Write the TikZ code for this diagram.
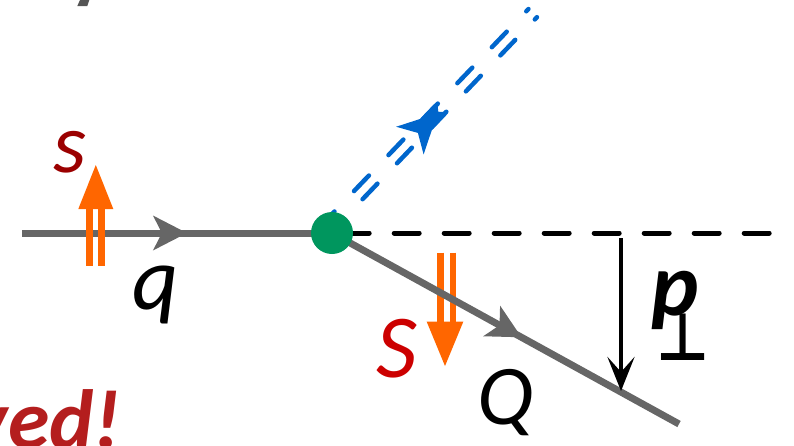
\documentclass[tikz,border=0pt]{standalone}
\usepackage{fontspec}
\newfontfamily\calfont{Carlito}
\newfontfamily\djvbold{DejaVu Sans Bold}
\usetikzlibrary{arrows.meta,calc}
\definecolor{lgray}{RGB}{102,102,102}
\definecolor{vgreen}{RGB}{0,150,94}
\definecolor{fblue}{RGB}{0,102,204}
\definecolor{sorange}{RGB}{255,102,0}
\definecolor{sdred}{RGB}{155,0,0}
\definecolor{sred}{RGB}{204,0,0}
\definecolor{tred}{RGB}{180,30,30}
\definecolor{fraggray}{RGB}{85,85,85}
\begin{document}
\begin{tikzpicture}[x=1pt,y=-1pt,
  quark/.style={draw=lgray,line width=7pt},
  headshape/.style={fill=lgray},
  cutline/.style={draw=black,line width=5pt,line cap=round,dash pattern=on 25pt off 25pt,dash phase=37.8pt},
  bluestroke/.style={draw=fblue,line width=4.5pt,line cap=round,dash pattern=on 21.5pt off 28.3pt,dash phase=47.15pt},
  spinstem/.style={draw=sorange,line width=6.5pt},
  vertexdot/.style={circle,fill=vgreen,minimum size=42pt,inner sep=0pt},
  lbl/.style={inner sep=0pt,outer sep=0pt},
  itlbl/.style={lbl,font=\calfont\itshape\fontsize{90}{90}\selectfont},
  pvec/.style={draw=black,line width=4.5pt,-{Stealth[length=34pt,width=27pt,inset=15pt]}}
]
\useasboundingbox (0,0) rectangle (794,445);
\clip (0,0) rectangle (794,445);

% coordinates
\coordinate (v) at (332,233);
\coordinate (qin) at (22,233);
\coordinate (Qout) at (679,424);
\coordinate (cutend) at (769.2,233);
\coordinate (bs) at (322,233);
\coordinate (be) at (532.7,13.1);
\coordinate (ptop) at (621,238);
\coordinate (pbot) at (621,391);
\coordinate (qtip) at ($(qin)!0.532!(v)$);
\coordinate (Qtip) at ($(v)!0.546!(Qout)$);

% right spin (below the heavy quark line)
\coordinate (S1a) at (440.7,252.7);
\coordinate (S1b) at (440.7,323);
\coordinate (S2a) at (453,252.7);
\coordinate (S2b) at (453,323);
\draw[spinstem] (S1a) -- (S1b);
\draw[spinstem] (S2a) -- (S2b);
\fill[sorange] (426.7,321.7) -- (463.3,321.7) -- (445,366) -- cycle;

% cut line
\draw[cutline] (v) -- (cutend);

% blue double dashed line
\draw[bluestroke,transform canvas={shift={(4.26,4.08)}}] (bs) -- (be);
\draw[bluestroke,transform canvas={shift={(-4.26,-4.08)}}] (bs) -- (be);
\begin{scope}[shift={(bs)},x={(0.692pt,0.722pt)},y={(0.722pt,-0.692pt)}]
\fill[fblue] (128,-20) -- (150,-8.2) -- (171,-8.2) -- (171,-3.5) -- (168,0) -- (171,3.5) -- (171,8.2) -- (150,8.2) -- (127,19) -- (138.6,0) -- cycle;
\end{scope}

% quark lines with arrow heads
\draw[quark] (qin) -- (v);
\draw[quark] (v) -- (Qout);
\begin{scope}[shift={(qtip)}]
\fill[headshape] (0,0) -- (-34,-17.5) -- (-25,0) -- (-34,17.5) -- cycle;
\end{scope}
\begin{scope}[shift={(Qtip)},x={(0.877pt,-0.482pt)},y={(-0.482pt,-0.877pt)}]
\fill[headshape] (0,0) -- (-34,-17.5) -- (-25,0) -- (-34,17.5) -- cycle;
\end{scope}

% transverse momentum arrow
\draw[pvec] (ptop) -- (pbot);

% left spin (over the light quark line)
\coordinate (s1a) at (89.3,265.7);
\coordinate (s1b) at (89.3,208);
\coordinate (s2a) at (101.7,265.7);
\coordinate (s2b) at (101.7,208);
\draw[spinstem] (s1a) -- (s1b);
\draw[spinstem] (s2a) -- (s2b);
\fill[sorange] (78.3,209) -- (113.3,209) -- (95.8,165) -- cycle;

% vertex
\node[vertexdot] (vd) at (v) {};

% labels
\node[lbl,font=\calfont\itshape\fontsize{85}{85}\selectfont,text=sdred,anchor=base] (slab) at (70,172) {s};
\node[itlbl,text=sred,anchor=base] (Slab) at (397,377) {S};
\node[itlbl,text=black,anchor=base] (qlab) at (156,309) {q};
\node[lbl,font=\calfont\itshape\fontsize{85}{85}\selectfont,text=black,anchor=base] (Qlab) at (506,424) {Q};
\node[lbl,font=\calfont\bfseries\itshape\fontsize{90}{90}\selectfont,text=black,anchor=base] (plab) at (675,315) {p};
\node[lbl,font=\djvbold\fontsize{66}{66}\selectfont,xscale=0.88,text=black,anchor=base] (perp) at (683,360) {⊥};
\node[lbl,font=\calfont\bfseries\itshape\fontsize{84}{84}\selectfont,text=tred,anchor=base east] (ved) at (121,448) {ved!};

% fragment at the top
\fill[fraggray] (80,0) -- (89.3,0) -- (87.3,6) -- (77.3,6) -- cycle;
\end{tikzpicture}
\end{document}
